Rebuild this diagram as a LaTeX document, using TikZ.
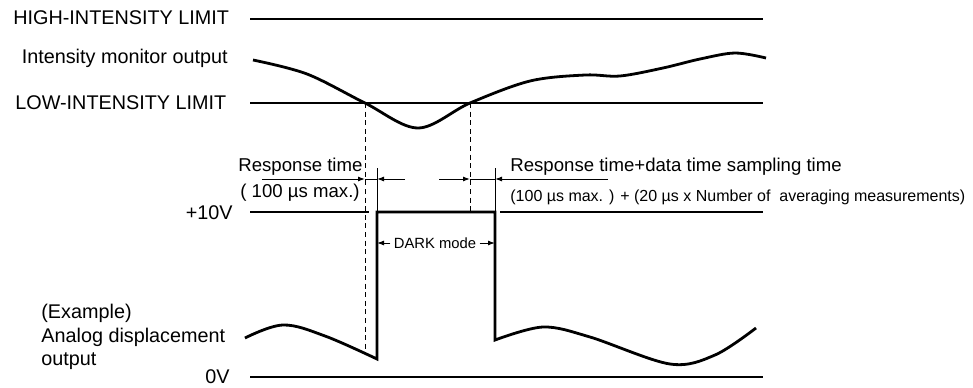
\documentclass[tikz,border=0pt]{standalone}
\usepackage{fontspec}
\setmainfont{Liberation Sans}
\usetikzlibrary{arrows.meta}

\begin{document}
\begin{tikzpicture}[x=0.5pt, y=-0.5pt, >={Latex[length=3.5pt,width=2.5pt]},
    limit/.style={line width=0.55pt},
    signal/.style={line width=1.4pt, line join=miter},
    guide/.style={line width=0.5pt, dash pattern=on 2.5pt off 1.8pt},
    dim/.style={line width=0.5pt},
    lbl/.style={font=\fontsize{9.9}{11.8}\selectfont, inner sep=0pt},
    note/.style={font=\fontsize{9.3}{11}\selectfont, inner sep=0pt},
    small/.style={font=\fontsize{8}{10}\selectfont, inner sep=0pt}]
    \useasboundingbox (0,0) rectangle (973,387);
    \def\xl{250} \def\xr{763}
    % Key points
    \coordinate (cross1) at (365,103);
    \coordinate (cross2) at (470,103);
    \coordinate (cut1) at (365,353);
    \coordinate (riseB) at (377,359);
    \coordinate (riseT) at (377,212);
    \coordinate (fallT) at (495,212);
    \coordinate (fallB) at (495,340);
    \coordinate (dimY) at (0,179);
    % Labels on the left
    \node[lbl, anchor=west] (hiLbl) at (13,18) {HIGH-INTENSITY LIMIT};
    \node[lbl, anchor=east] (monLbl) at (228,58) {Intensity monitor output};
    \node[lbl, anchor=west] (loLbl) at (15,103) {LOW-INTENSITY LIMIT};
    \node[lbl, anchor=east] (tenLbl) at (233,213) {+10V};
    \node[lbl, anchor=west, align=left] (anaLbl) at (41,337) {(Example)\\Analog displacement\\output};
    \node[lbl, anchor=east] (zeroLbl) at (230,377) {0V};
    % Level lines
    \draw[limit] (\xl,19) -- (\xr,19);
    \draw[limit] (\xl,103) -- (\xr,103);
    \draw[limit] (\xl,212) -- (369,212);
    \draw[limit] (500,212) -- (\xr,212);
    \draw[limit] (\xl,377) -- (\xr,377);
    % Intensity monitor output
    \draw[signal] plot[smooth, tension=0.55] coordinates {(253,60) (307,74) (365,103) (418,128) (470,103) (530,81) (585,75) (620,76) (663,68) (700,59) (735,53) (766,58)};
    % Guide lines
    \draw[guide] (cross1) -- (cut1);
    \draw[guide] (cross2) -- (cross2 |- fallT);
    % Analog displacement output
    \draw[signal] plot[smooth, tension=0.6] coordinates {(245,338) (283,325) (325,336) (riseB)}
        -- (riseT) -- (fallT) -- (fallB)
        -- plot[smooth, tension=0.55] coordinates {(fallB) (543,327) (590,337) (670,364) (715,355) (756,328)};
    % Response times
    \draw[dim] (riseT) -- ++(0,-44);
    \draw[dim] (fallT) -- ++(0,-44);
    \draw[dim, ->] (262,179) -- (cross1 |- dimY);
    \draw[dim] (cross1 |- dimY) -- (riseT |- dimY);
    \draw[dim, ->] (405,179) -- (riseT |- dimY);
    \draw[dim, ->] (439,179) -- (cross2 |- dimY);
    \draw[dim] (cross2 |- dimY) -- (fallT |- dimY);
    \draw[dim, ->] (608,179) -- (fallT |- dimY);
    \node[note, anchor=west] (resp1) at (238,167) {Response time};
    \node[note, anchor=west] (resp1b) at (240,193) {( 100 µs max.)};
    \node[note, anchor=west] (resp2) at (510,167) {Response time+data time sampling time};
    \node[small, anchor=west] (resp2b) at (510,197) {(100 µs max. ) + (20 µs x Number of\ \ averaging measurements)};
    % DARK mode
    \node[small, font=\fontsize{7.4}{9}\selectfont] (dark) at (435,243) {DARK mode};
    \draw[dim, ->] ([xshift=-1.5pt]dark.west) -- (riseT |- dark);
    \draw[dim, ->] ([xshift=1.5pt]dark.east) -- (fallT |- dark);
\end{tikzpicture}
\end{document}
